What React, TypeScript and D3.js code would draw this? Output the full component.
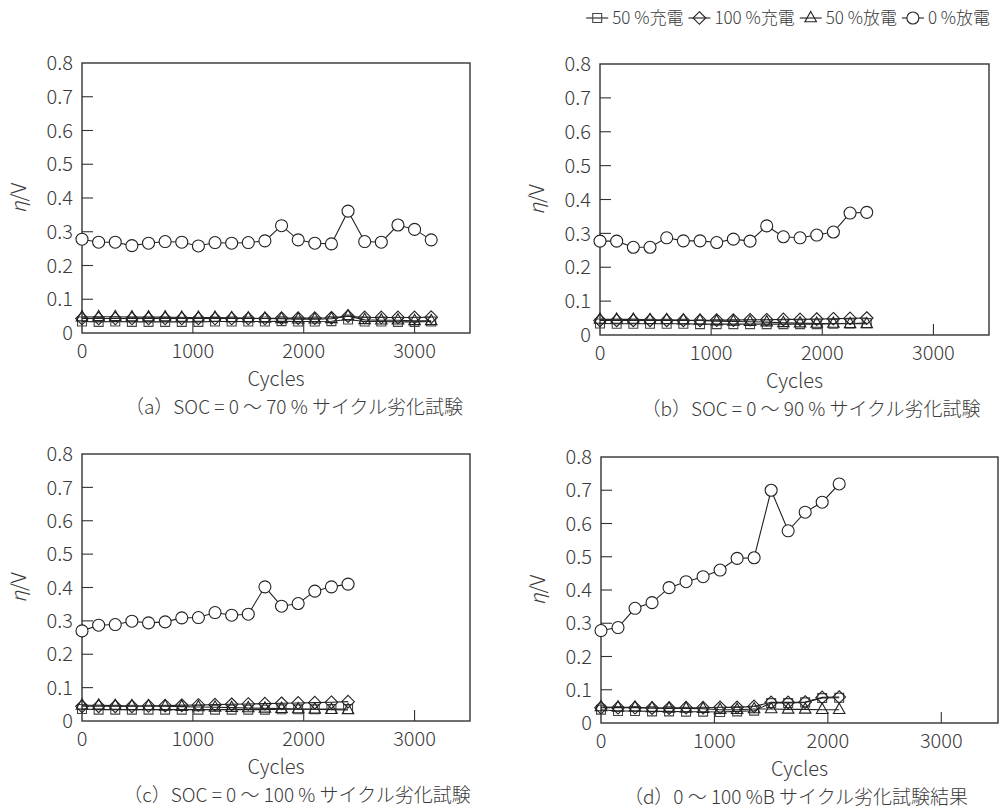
import React from 'react';
import * as d3 from 'd3';

// ---------- data ----------
const cyclesA = [0, 150, 300, 450, 600, 750, 900, 1050, 1200, 1350, 1500, 1650, 1800, 1950, 2100, 2250, 2400, 2550, 2700, 2850, 3000, 3150];
const circleA = [0.278, 0.269, 0.269, 0.259, 0.266, 0.271, 0.269, 0.258, 0.268, 0.266, 0.268, 0.273, 0.318, 0.276, 0.266, 0.264, 0.361, 0.271, 0.269, 0.320, 0.307, 0.276];
const squareA = [0.034, 0.033, 0.034, 0.033, 0.033, 0.033, 0.033, 0.033, 0.034, 0.034, 0.034, 0.034, 0.035, 0.034, 0.034, 0.035, 0.040, 0.034, 0.034, 0.033, 0.033, 0.034];
const diamondA = [0.043, 0.043, 0.043, 0.043, 0.043, 0.043, 0.043, 0.043, 0.043, 0.043, 0.043, 0.043, 0.044, 0.044, 0.044, 0.045, 0.050, 0.046, 0.046, 0.046, 0.046, 0.047];
const triangleA = [0.047, 0.048, 0.048, 0.047, 0.047, 0.047, 0.046, 0.046, 0.046, 0.045, 0.044, 0.043, 0.042, 0.041, 0.041, 0.042, 0.050, 0.039, 0.038, 0.038, 0.036, 0.036];

const cyclesB = [0, 150, 300, 450, 600, 750, 900, 1050, 1200, 1350, 1500, 1650, 1800, 1950, 2100, 2250, 2400];
const circleB = [0.277, 0.277, 0.259, 0.259, 0.287, 0.278, 0.278, 0.273, 0.283, 0.277, 0.322, 0.290, 0.287, 0.295, 0.304, 0.360, 0.362];
const squareB = [0.034, 0.033, 0.033, 0.033, 0.033, 0.033, 0.032, 0.032, 0.032, 0.032, 0.032, 0.032, 0.032, 0.032, 0.033, 0.034, 0.035];
const diamondB = [0.043, 0.043, 0.043, 0.043, 0.043, 0.043, 0.043, 0.044, 0.044, 0.045, 0.045, 0.046, 0.046, 0.047, 0.048, 0.049, 0.050];
const triangleB = [0.046, 0.046, 0.046, 0.045, 0.045, 0.044, 0.043, 0.041, 0.040, 0.039, 0.038, 0.036, 0.035, 0.034, 0.034, 0.033, 0.033];

const cyclesC = [0, 150, 300, 450, 600, 750, 900, 1050, 1200, 1350, 1500, 1650, 1800, 1950, 2100, 2250, 2400];
const circleC = [0.270, 0.287, 0.289, 0.299, 0.294, 0.297, 0.309, 0.310, 0.325, 0.317, 0.320, 0.402, 0.344, 0.352, 0.389, 0.402, 0.410];
const squareC = [0.036, 0.034, 0.034, 0.034, 0.034, 0.034, 0.034, 0.034, 0.034, 0.034, 0.034, 0.034, 0.035, 0.035, 0.035, 0.036, 0.036];
const diamondC = [0.044, 0.044, 0.044, 0.044, 0.045, 0.046, 0.047, 0.048, 0.049, 0.050, 0.051, 0.052, 0.053, 0.054, 0.055, 0.056, 0.058];
const triangleC = [0.047, 0.047, 0.046, 0.045, 0.045, 0.044, 0.043, 0.042, 0.041, 0.040, 0.039, 0.038, 0.037, 0.036, 0.035, 0.034, 0.033];

const cyclesD = [0, 150, 300, 450, 600, 750, 900, 1050, 1200, 1350, 1500, 1650, 1800, 1950, 2100];
const circleD = [0.278, 0.287, 0.345, 0.362, 0.407, 0.425, 0.440, 0.460, 0.495, 0.497, 0.700, 0.578, 0.634, 0.664, 0.719];
const squareD = [0.040, 0.036, 0.036, 0.035, 0.035, 0.034, 0.034, 0.033, 0.035, 0.037, 0.060, 0.060, 0.062, 0.075, 0.076];
const diamondD = [0.046, 0.046, 0.046, 0.045, 0.045, 0.046, 0.046, 0.047, 0.047, 0.050, 0.062, 0.062, 0.063, 0.077, 0.078];
const triangleD = [0.048, 0.047, 0.047, 0.045, 0.044, 0.044, 0.043, 0.040, 0.040, 0.042, 0.042, 0.041, 0.041, 0.040, 0.040];

const yTicks = [0, 0.1, 0.2, 0.3, 0.4, 0.5, 0.6, 0.7, 0.8];
const yTickLabels = ['0', '0.1', '0.2', '0.3', '0.4', '0.5', '0.6', '0.7', '0.8'];
const xTicks = [0, 1000, 2000, 3000];
const xTickLabels = ['0', '1000', '2000', '3000'];

const legendLabels = ['50 %充電', '100 %充電', '50 %放電', '0 %放電'];
const captions = [
  '（a）SOC = 0 〜 70 % サイクル劣化試験',
  '（b）SOC = 0 〜 90 % サイクル劣化試験',
  '（c）SOC = 0 〜 100 % サイクル劣化試験',
  '（d）0 〜 100 %B サイクル劣化試験結果',
];

// ---------- layout ----------
const FONT = "'Noto Sans CJK JP', 'Noto Sans', sans-serif";
const WEIGHT = 300;
const TEXT = '#3a3a3a';

const panels = [
  { left: 82, right: 470, top: 63, bottom: 333, capX: 294, cycles: cyclesA, ci: circleA, sq: squareA, di: diamondA, tr: triangleA, caption: captions[0] },
  { left: 600, right: 989, top: 64, bottom: 335, capX: 811, cycles: cyclesB, ci: circleB, sq: squareB, di: diamondB, tr: triangleB, caption: captions[1] },
  { left: 82, right: 470, top: 454, bottom: 721, capX: 297, cycles: cyclesC, ci: circleC, sq: squareC, di: diamondC, tr: triangleC, caption: captions[2] },
  { left: 601, right: 998, top: 457, bottom: 723, capX: 796, cycles: cyclesD, ci: circleD, sq: squareD, di: diamondD, tr: triangleD, caption: captions[3] },
];

const diamondType = {
  draw(ctx: any, size: number) {
    const r = Math.sqrt(size / 2);
    ctx.moveTo(0, -r);
    ctx.lineTo(r, 0);
    ctx.lineTo(0, r);
    ctx.lineTo(-r, 0);
    ctx.closePath();
  },
};
const triangleType = {
  draw(ctx: any, size: number) {
    const w = Math.sqrt(size);
    ctx.moveTo(0, -w * 0.62);
    ctx.lineTo(w * 0.55, w * 0.36);
    ctx.lineTo(-w * 0.55, w * 0.36);
    ctx.closePath();
  },
};

const squarePath = d3.symbol(d3.symbolSquare, 80)() as string;
const diamondPath = d3.symbol(diamondType as any, 80)() as string;
const trianglePath = d3.symbol(triangleType as any, 110)() as string;
const CIRCLE_R = 6;

function Marker({ kind, x, y }: { kind: string; x: number; y: number }) {
  if (kind === 'ci') {
    return <circle cx={x} cy={y} r={CIRCLE_R} fill="#fff" stroke="#222" strokeWidth={1.1} />;
  }
  const d = kind === 'sq' ? squarePath : kind === 'di' ? diamondPath : trianglePath;
  const stroke = kind === 'sq' ? '#444' : '#222';
  return <path d={d} transform={`translate(${x},${y})`} fill="none" stroke={stroke} strokeWidth={1.1} />;
}

function PanelView({ p }: { p: any }) {
  const x = d3.scaleLinear().domain([0, 3500]).range([p.left, p.right]);
  const y = d3.scaleLinear().domain([0, 0.8]).range([p.bottom, p.top]);
  const series: { kind: string; vals: number[] }[] = [
    { kind: 'sq', vals: p.sq },
    { kind: 'di', vals: p.di },
    { kind: 'tr', vals: p.tr },
    { kind: 'ci', vals: p.ci },
  ];
  const line = d3
    .line<number>()
    .x((_, i) => x(p.cycles[i]))
    .y((v) => y(v));
  const cx = (p.left + p.right) / 2;
  const cy = (p.top + p.bottom) / 2;
  const txt = { fontSize: 20, fill: TEXT, fontFamily: FONT, fontWeight: WEIGHT };
  return (
    <g>
      {yTicks.slice(1, -1).map((t) => (
        <line key={'yt' + t} x1={p.left} x2={p.left + 11} y1={y(t)} y2={y(t)} stroke="#333" strokeWidth={1.1} />
      ))}
      {xTicks.slice(1).map((t) => (
        <line key={'xt' + t} x1={x(t)} x2={x(t)} y1={p.bottom} y2={p.bottom - 11} stroke="#333" strokeWidth={1.1} />
      ))}
      <rect x={p.left} y={p.top} width={p.right - p.left} height={p.bottom - p.top} fill="none" stroke="#333" strokeWidth={1.4} />
      {yTicks.map((t, i) => (
        <text key={'yl' + t} x={p.left - 9} y={y(t)} dy="0.36em" textAnchor="end" {...txt}>
          {yTickLabels[i]}
        </text>
      ))}
      {xTicks.map((t, i) => (
        <text key={'xl' + t} x={x(t)} y={p.bottom + 25} textAnchor="middle" {...txt}>
          {xTickLabels[i]}
        </text>
      ))}
      <text x={cx} y={p.bottom + 53} textAnchor="middle" {...txt}>
        Cycles
      </text>
      <text x={p.capX} y={p.bottom + 81} textAnchor="middle" {...txt} fontSize={19}>
        {p.caption}
      </text>
      <text transform={`translate(${p.left - 56},${cy}) rotate(-90)`} textAnchor="middle" {...txt}>
        <tspan fontStyle="italic">η</tspan>/V
      </text>
      {series.map((s) => (
        <path key={'l' + s.kind} d={line(s.vals) as string} fill="none" stroke="#222" strokeWidth={1.1} />
      ))}
      {series.map((s) =>
        s.vals.map((v, i) => <Marker key={s.kind + i} kind={s.kind} x={x(p.cycles[i])} y={y(v)} />)
      )}
    </g>
  );
}

const LEG_FONT = 17;
function measure(s: string): number {
  try {
    const c = document.createElement('canvas').getContext('2d');
    if (c) {
      c.font = `${WEIGHT} ${LEG_FONT}px 'Noto Sans CJK JP'`;
      return c.measureText(s).width;
    }
  } catch (e) {}
  return s.length * LEG_FONT * 0.7;
}

function Legend() {
  const kinds = ['sq', 'di', 'tr', 'ci'];
  const seg = 22;
  const gapText = 4;
  const gapItem = 5;
  const widths = legendLabels.map(measure);
  const total = widths.reduce((a, b) => a + b, 0) + kinds.length * (seg + gapText) + (kinds.length - 1) * gapItem;
  let x0 = 990 - total;
  const yy = 18;
  const items = kinds.map((k, i) => {
    const start = x0;
    x0 += seg + gapText + widths[i] + gapItem;
    return (
      <g key={k}>
        <line x1={start} x2={start + seg} y1={yy} y2={yy} stroke="#222" strokeWidth={1.1} />
        <Marker kind={k} x={start + seg / 2} y={yy} />
        <text x={start + seg + gapText} y={yy} dy="0.36em" fontSize={LEG_FONT} fill={TEXT} fontFamily={FONT} fontWeight={WEIGHT}>
          {legendLabels[i]}
        </text>
      </g>
    );
  });
  return <g>{items}</g>;
}

export default function App() {
  return (
    <svg width={1000} height={811} style={{ position: 'absolute', left: 0, top: 0, background: '#fff' }}>
      <rect width={1000} height={811} fill="#fff" />
      <Legend />
      {panels.map((p, i) => (
        <PanelView key={i} p={p} />
      ))}
    </svg>
  );
}
